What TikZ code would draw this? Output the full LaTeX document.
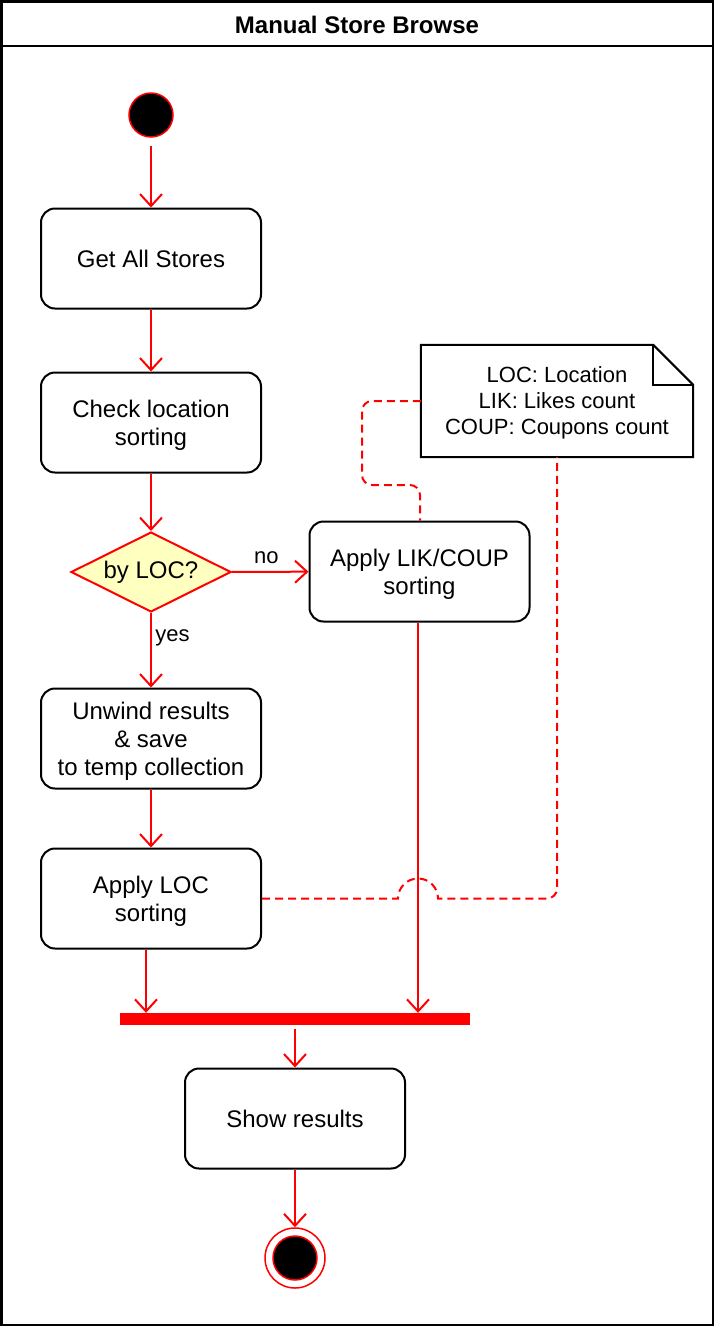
\documentclass[tikz,border=0pt]{standalone}
\usepackage{fontspec}
\setmainfont{Liberation Sans}
\usetikzlibrary{shapes.geometric,arrows.meta,positioning,calc}
\definecolor{flowred}{RGB}{255,0,0}
\definecolor{decisionfill}{RGB}{255,255,192}

\tikzset{
  action/.style={draw=black, line width=2pt, rounded corners=14pt, minimum width=220pt,
    minimum height=100pt, inner sep=0pt, align=center, text depth=0pt, font=\fontsize{24}{28}\selectfont},
  decision/.style={diamond, aspect=2, draw=flowred, fill=decisionfill, line width=2pt, minimum width=160pt,
    minimum height=80pt, inner sep=0pt, font=\fontsize{24}{28}\selectfont},
  flow/.style={draw=flowred, line width=2pt, -{Straight Barb[length=12pt,width=22pt,line width=2pt]}},
  notelink/.style={draw=flowred, line width=2pt, dash pattern=on 8pt off 5pt},
  edgelabel/.style={font=\fontsize{22}{26}\selectfont},
  statedot/.style={circle, draw=flowred, fill=black, line width=1.5pt, minimum size=44pt, inner sep=0pt},
}

\begin{document}
\begin{tikzpicture}[x=1pt, y=-1pt]
    \useasboundingbox (0,0) rectangle (714,1326);

    % Frame and title
    \draw[line width=2.5pt] (1.25,1.25) rectangle (712.75,1324.75);
    \draw[line width=2.5pt] (1.25,46) -- (712.75,46);
    \node[font=\fontsize{24}{28}\selectfont\bfseries] (title) at (357,25) {Manual Store Browse};

    % States and actions
    \node[statedot] (start) at (151,115) {};
    \node[action] (getall) at (151,258.5) {Get All Stores};
    \node[action] (checkloc) at (151,422.5) {Check location\\sorting};
    \node[decision] (byloc) at (151,572) {by LOC?};
    \node[action] (applylik) at (419.5,571.5) {Apply LIK/COUP\\sorting};
    \node[action] (unwind) at (151,738.5) {Unwind results\\\& save\\to temp collection};
    \node[action] (applyloc) at (151,898.5) {Apply LOC\\sorting};
    \node[fill=flowred, minimum width=350pt, minimum height=12pt, inner sep=0pt] (join) at (295,1019) {};
    \node[action] (show) at (295,1118.5) {Show results};
    \node[circle, draw=flowred, line width=1.5pt, minimum size=60pt, inner sep=0pt] (finish) at (295,1258) {};
    \node[statedot] (finishdot) at (295,1258) {};

    % Legend note
    \node[minimum width=272pt, minimum height=112pt, align=center, text depth=0pt,
      font=\fontsize{22}{26}\selectfont] (legend) at (557,401) {LOC: Location\\LIK: Likes count\\COUP: Coupons count};
    \draw[line width=2pt] (legend.north west) -- ($(legend.north east)+(-40,0)$)
      -- ($(legend.north east)+(0,40)$) -- (legend.south east) -- (legend.south west) -- cycle;
    \draw[line width=2pt] ($(legend.north east)+(-40,0)$) -- ++(0,40) -- ++(40,0);

    % Flow
    \draw[flow, shorten <=8pt] (start) -- (getall);
    \draw[flow] (getall) -- (checkloc);
    \draw[flow] (checkloc) -- (byloc);
    \draw[flow] (byloc) -- node[edgelabel, above, pos=0.45, yshift=4pt] {no} (applylik);
    \draw[flow] (byloc) -- node[edgelabel, right, pos=0.34] {yes} (unwind);
    \draw[flow] (unwind) -- (applyloc);
    \draw[flow] ([xshift=-5pt]applyloc.south) -- ([xshift=-5pt]applyloc.south |- join.north);
    \draw[flow] ([xshift=-1.5pt]applylik.south) -- ([xshift=-1.5pt]applylik.south |- join.north);
    \draw[flow, shorten <=4pt] (join) -- (show);
    \draw[flow] (show) -- (finish);

    % Note links
    \draw[notelink, rounded corners=10pt] (legend.west) -- (362,401) -- (362,485) -- (420,485)
      -- (applylik.north -| 420,0);
    \draw[notelink] (applyloc.east) -- (398,898.5) arc[start angle=180, end angle=0, radius=20pt]
      [rounded corners=10pt] -- (557,898.5) -- (legend.south);
\end{tikzpicture}
\end{document}
